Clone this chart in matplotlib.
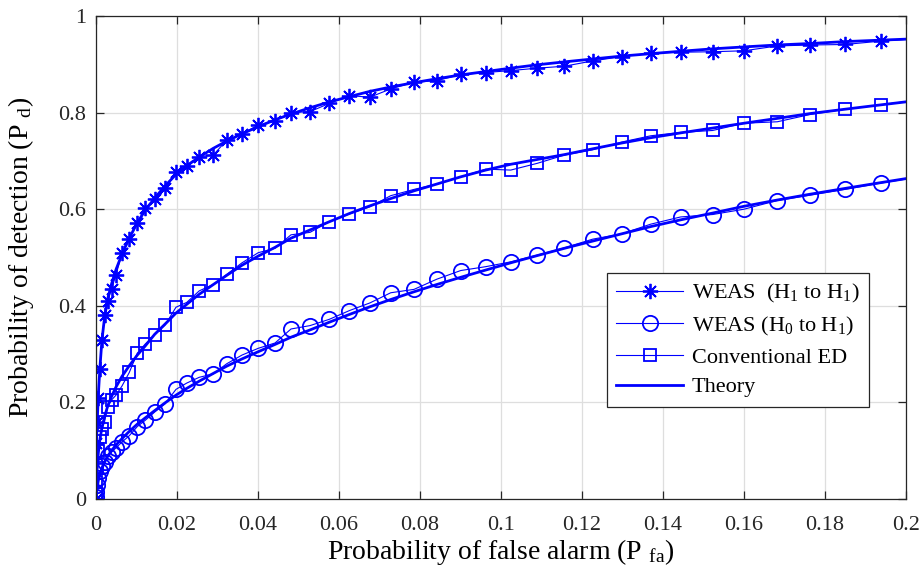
import matplotlib
matplotlib.use("Agg")
import matplotlib.pyplot as plt

plt.rcParams['font.family'] = ['Liberation Serif', 'DejaVu Serif']
plt.rcParams['mathtext.fontset'] = 'custom'
plt.rcParams['mathtext.rm'] = 'Liberation Serif'
plt.rcParams['mathtext.it'] = 'Liberation Serif:italic'

# Probability of false alarm grid (shared by all curves)
pfa = [0.0, 0.00012, 0.0003, 0.00057, 0.00099, 0.00148, 0.0021, 0.00291, 0.00383,
       0.00494, 0.00642, 0.00822, 0.0102, 0.01217, 0.01449, 0.01704, 0.01975, 0.0224,
       0.0255, 0.02896, 0.03227, 0.03605, 0.04007, 0.0442, 0.04815, 0.05284, 0.0576,
       0.06254, 0.06765, 0.07277, 0.07852, 0.08412, 0.09005, 0.09622, 0.1024, 0.10896,
       0.11563, 0.12264, 0.1298, 0.13696, 0.14437, 0.15227, 0.16, 0.16822, 0.1763,
       0.18494, 0.19375, 0.20272]

weas_h1_sim = [0.0, 0.115, 0.16, 0.21, 0.27, 0.33, 0.38, 0.41, 0.435, 0.464, 0.509, 0.539,
               0.571, 0.602, 0.621, 0.643, 0.676, 0.689, 0.709, 0.712, 0.743, 0.756, 0.774,
               0.783, 0.800, 0.802, 0.819, 0.835, 0.832, 0.849, 0.863, 0.866, 0.879, 0.883,
               0.887, 0.892, 0.896, 0.907, 0.916, 0.923, 0.925, 0.926, 0.928, 0.938, 0.940,
               0.941, 0.948, 0.953]
weas_h1_theory = [0.0, 0.12, 0.16, 0.215, 0.275, 0.33, 0.375, 0.415, 0.445, 0.475, 0.507,
                  0.54, 0.572, 0.598, 0.623, 0.648, 0.672, 0.69, 0.708, 0.726, 0.741, 0.756,
                  0.771, 0.785, 0.797, 0.810, 0.822, 0.833, 0.844, 0.853, 0.862, 0.870, 0.878,
                  0.885, 0.892, 0.899, 0.905, 0.911, 0.917, 0.922, 0.927, 0.932, 0.936, 0.940,
                  0.943, 0.947, 0.950, 0.953]

weas_h0_sim = [0.005, 0.015, 0.03, 0.043, 0.058, 0.068, 0.076, 0.088, 0.097, 0.106, 0.118,
               0.131, 0.150, 0.163, 0.180, 0.197, 0.227, 0.240, 0.252, 0.259, 0.280, 0.298,
               0.312, 0.323, 0.352, 0.359, 0.372, 0.390, 0.406, 0.427, 0.434, 0.455, 0.473,
               0.481, 0.491, 0.505, 0.520, 0.538, 0.549, 0.569, 0.584, 0.589, 0.600, 0.618,
               0.629, 0.641, 0.654, 0.666]
weas_h0_theory = [0.0, 0.012, 0.024, 0.038, 0.052, 0.064, 0.076, 0.089, 0.100, 0.112, 0.125,
                  0.140, 0.155, 0.168, 0.183, 0.199, 0.215, 0.229, 0.244, 0.260, 0.275, 0.290,
                  0.305, 0.320, 0.335, 0.350, 0.366, 0.382, 0.398, 0.413, 0.429, 0.444, 0.459,
                  0.474, 0.489, 0.504, 0.519, 0.534, 0.549, 0.564, 0.578, 0.592, 0.606, 0.619,
                  0.631, 0.643, 0.655, 0.667]

ced_sim = [0.01, 0.035, 0.064, 0.10, 0.128, 0.145, 0.160, 0.191, 0.205, 0.215, 0.234, 0.262,
           0.302, 0.321, 0.340, 0.360, 0.397, 0.407, 0.431, 0.444, 0.465, 0.489, 0.510, 0.519,
           0.547, 0.552, 0.574, 0.590, 0.605, 0.628, 0.641, 0.652, 0.667, 0.683, 0.681, 0.695,
           0.712, 0.723, 0.739, 0.752, 0.759, 0.763, 0.778, 0.781, 0.796, 0.807, 0.816, 0.826]
ced_theory = [0.0, 0.04, 0.065, 0.095, 0.125, 0.148, 0.17, 0.193, 0.212, 0.232, 0.254, 0.276,
              0.298, 0.317, 0.341, 0.362, 0.385, 0.403, 0.424, 0.444, 0.463, 0.484, 0.503,
              0.521, 0.540, 0.557, 0.574, 0.591, 0.607, 0.622, 0.638, 0.652, 0.667, 0.681,
              0.693, 0.703, 0.713, 0.725, 0.737, 0.748, 0.758, 0.768, 0.778, 0.788, 0.798,
              0.807, 0.816, 0.825]

xticks = [0, 0.02, 0.04, 0.06, 0.08, 0.1, 0.12, 0.14, 0.16, 0.18, 0.2]
xticklabels = ['0', '0.02', '0.04', '0.06', '0.08', '0.1', '0.12', '0.14', '0.16', '0.18', '0.2']
yticks = [0, 0.2, 0.4, 0.6, 0.8, 1.0]
yticklabels = ['0', '0.2', '0.4', '0.6', '0.8', '1']

blue = '#0000ff'
fig = plt.figure(figsize=(9.21, 5.81), dpi=100)
ax = fig.add_axes([96/921, 82/581, 810/921, 483/581])

star = (8, 2, 0)
h1, = ax.plot(pfa, weas_h1_sim, color=blue, lw=0.8, marker=star, ms=11, mew=1.3,
              label=r'WEAS  (H$_1$ to H$_1$)')
h2, = ax.plot(pfa, weas_h0_sim, color=blue, lw=0.8, marker='o', ms=11, mew=1.3,
              mfc='none', label=r'WEAS (H$_0$ to H$_1$)')
h3, = ax.plot(pfa, ced_sim, color=blue, lw=0.8, marker='s', ms=8.5, mew=1.3,
              mfc='none', label='Conventional ED')
h4, = ax.plot(pfa, weas_h1_theory, color=blue, lw=2.0, label='Theory')
ax.plot(pfa, weas_h0_theory, color=blue, lw=2.0)
ax.plot(pfa, ced_theory, color=blue, lw=2.0)

ax.set_xlim(0, 0.2)
ax.set_ylim(0, 1)
ax.set_xticks(xticks)
ax.set_xticklabels(xticklabels)
ax.set_yticks(yticks)
ax.set_yticklabels(yticklabels)
ax.grid(True, color='#dedede', lw=0.9)
ax.set_axisbelow(True)
ax.tick_params(direction='in', length=6, width=0.9, top=True, right=True,
               labelsize=16, colors='#262626')
ax.tick_params(axis='x', pad=12)
ax.tick_params(axis='y', pad=7)
for sp in ax.spines.values():
    sp.set_color('#262626')
    sp.set_linewidth(0.9)

ax.set_xlabel(r'Probability of false alarm (P $_{\rm fa}$)', fontsize=20, labelpad=2)
ax.set_ylabel(r'Probability of detection (P $_{\rm d}$)', fontsize=20, labelpad=16)

leg = ax.legend(handles=[h1, h2, h3, h4], loc='upper left',
                bbox_to_anchor=(0.631, 0.468), fontsize=16, frameon=True,
                fancybox=False, framealpha=1, edgecolor='#262626',
                handlelength=3.0, borderpad=0.42, labelspacing=0.42,
                handletextpad=0.4, borderaxespad=0)
leg.get_frame().set_linewidth(0.9)

fig.savefig('out.png', dpi=100)
